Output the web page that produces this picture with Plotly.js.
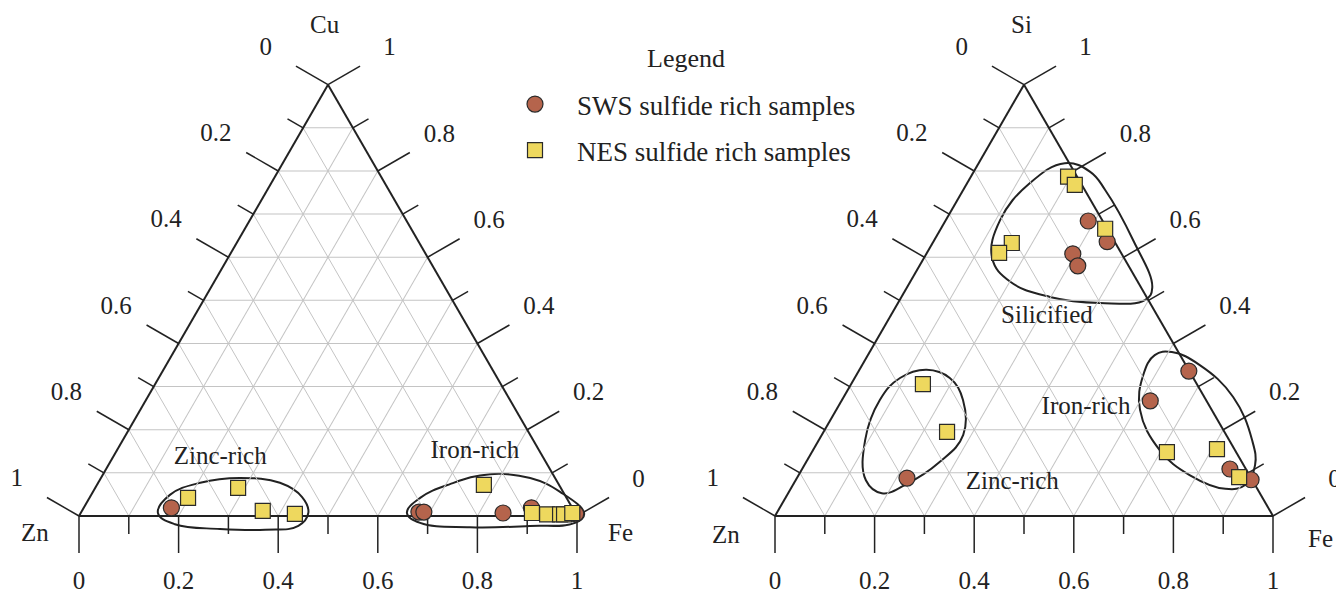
<!DOCTYPE html>
<html><head><meta charset="utf-8">
<script src="https://cdn.plot.ly/plotly-3.0.1.min.js"></script>
<style>html,body{margin:0;padding:0;background:#fff}#chart{width:1336px;height:598px}</style>
</head><body><div id="chart"></div>
<script>
// ---------------- data (fractions) ----------------
// Left diagram: Cu (top), Zn (bottom-left), Fe (bottom-right); Zn = 1 - Cu - Fe
const leftSwsCu = [0.019, 0.009, 0.009, 0.007, 0.019, 0.005];
const leftSwsFe = [0.176, 0.678, 0.688, 0.848, 0.899, 0.995];
const leftNesCu = [0.042, 0.065, 0.012, 0.005, 0.072, 0.007, 0.004, 0.004, 0.004, 0.007];
const leftNesFe = [0.198, 0.287, 0.363, 0.431, 0.777, 0.906, 0.938, 0.964, 0.972, 0.987];
// Right diagram: Si (top), Zn (bottom-left), Fe (bottom-right)
const rightSwsSi = [0.684, 0.636, 0.608, 0.580, 0.336, 0.267, 0.109, 0.084, 0.088];
const rightSwsFe = [0.287, 0.349, 0.294, 0.318, 0.663, 0.620, 0.859, 0.914, 0.221];
const rightNesSi = [0.787, 0.768, 0.666, 0.633, 0.610, 0.148, 0.155, 0.090, 0.306, 0.195];
const rightNesFe = [0.195, 0.218, 0.330, 0.159, 0.145, 0.713, 0.810, 0.887, 0.144, 0.248];

// field outlines, as [top component, Fe] pairs
const leftZincLoop = [[0.007,0.155],[0.049,0.158],[0.077,0.205],[0.088,0.279],[0.077,0.365],[0.044,0.426],[0.007,0.457],[-0.023,0.452],[-0.032,0.390],[-0.030,0.298],[-0.019,0.202]];
const leftIronLoop = [[0.007,0.655],[0.042,0.664],[0.074,0.708],[0.097,0.777],[0.088,0.862],[0.056,0.938],[0.005,1.012],[-0.016,1.004],[-0.023,0.917],[-0.026,0.798],[-0.016,0.693]];
const rightSiliLoop = [[0.818,0.173],[0.798,0.234],[0.756,0.285],[0.640,0.399],[0.529,0.493],[0.501,0.493],[0.494,0.406],[0.508,0.298],[0.543,0.201],[0.598,0.137],[0.686,0.109],[0.772,0.126]];
const rightIronLoop = [[0.380,0.607],[0.350,0.678],[0.276,0.782],[0.176,0.870],[0.118,0.905],[0.072,0.908],[0.063,0.873],[0.095,0.785],[0.153,0.696],[0.246,0.610],[0.327,0.576],[0.373,0.576]];
const rightZincLoop = [[0.339,0.135],[0.320,0.191],[0.269,0.243],[0.188,0.284],[0.125,0.268],[0.072,0.225],[0.053,0.188],[0.083,0.141],[0.176,0.093],[0.269,0.076],[0.320,0.091]];

// field labels
const leftFieldNames = ['Zinc-rich', 'Iron-rich'];
const leftFieldTop = [0.135, 0.148];
const leftFieldFe = [0.216, 0.721];
const rightFieldNames = ['Silicified', 'Iron-rich', 'Zinc-rich'];
const rightFieldTop = [0.462, 0.251, 0.077];
const rightFieldFe = [0.315, 0.499, 0.438];

// axis ticks
const minorTicks = [0, 0.1, 0.2, 0.3, 0.4, 0.5, 0.6, 0.7, 0.8, 0.9, 1];
const majorTicks = [0, 0.2, 0.4, 0.6, 0.8, 1];
const majorLabels = ['0', '0.2', '0.4', '0.6', '0.8', '1'];

const seriesNames = ['SWS sulfide rich samples', 'NES sulfide rich samples'];

// ---------------- layout geometry ----------------
const W = 1336, H = 598;
const SIDE = 498, S3 = Math.sqrt(3) / 2, TRI_H = SIDE * S3;
const BASE_Y = 516, LX0 = 79, RX0 = 775;
const FONT = '"Liberation Serif", "Times New Roman", serif';
const INK = '#222';
const ternY = [(H - BASE_Y - 10) / H, (H - BASE_Y + TRI_H + 10) / H];
const domX = x0 => [x0 / W, (x0 + SIDE) / W];

function axMain() {
  return {min: 0, tickmode: 'array', tickvals: minorTicks, ticks: '', showticklabels: false,
    showgrid: true, gridcolor: '#c4c4c4', gridwidth: 1,
    showline: true, linecolor: INK, linewidth: 2, layer: 'below traces', title: {text: ''}};
}
function tern(x0) {
  return {domain: {x: domX(x0), y: ternY}, sum: 1, bgcolor: 'rgba(0,0,0,0)',
    aaxis: axMain(), baxis: axMain(), caxis: axMain()};
}

const traces = [];
// ---- outlines, ticks and tick labels in hidden cartesian axes aligned with each triangle ----
function loopTrace(loop, xa, ya) {
  const pts = loop.concat([loop[0]]);
  return {type: 'scatter', xaxis: xa, yaxis: ya, mode: 'lines',
    x: pts.map(p => p[1] + p[0] / 2), y: pts.map(p => p[0] * S3),
    line: {color: INK, width: 2, shape: 'spline', smoothing: 1.2}, fill: 'toself', fillcolor: 'rgba(0,0,0,0)',
    hoverinfo: 'skip', showlegend: false};
}
traces.push(loopTrace(leftZincLoop, 'x', 'y'));
traces.push(loopTrace(leftIronLoop, 'x', 'y'));
traces.push(loopTrace(rightSiliLoop, 'x2', 'y2'));
traces.push(loopTrace(rightIronLoop, 'x2', 'y2'));
traces.push(loopTrace(rightZincLoop, 'x2', 'y2'));

const MAJOR_LEN = 37 / SIDE, MINOR_LEN = 18 / SIDE;
const edges = [
  {pt: v => [v, 0], n: [0, -1], lab: 67 / SIDE},                       // bottom: Fe
  {pt: v => [0.5 * (1 - v), S3 * (1 - v)], n: [-S3, 0.5], lab: 72 / SIDE}, // left: Zn
  {pt: v => [1 - v / 2, S3 * v], n: [S3, 0.5], lab: 71 / SIDE}           // right: top component
];
const isMajor = v => majorTicks.some(m => Math.abs(m - v) < 1e-9);
function tickTraces(xa, ya) {
  const tx = [], ty = [], lx = [], ly = [], lt = [];
  edges.forEach(e => {
    minorTicks.forEach(v => {
      const p = e.pt(v), len = isMajor(v) ? MAJOR_LEN : MINOR_LEN;
      tx.push(p[0], p[0] + e.n[0] * len, null);
      ty.push(p[1], p[1] + e.n[1] * len, null);
    });
    majorTicks.forEach((v, i) => {
      const p = e.pt(v);
      lx.push(p[0] + e.n[0] * e.lab); ly.push(p[1] + e.n[1] * e.lab); lt.push(majorLabels[i]);
    });
  });
  return [
    {type: 'scatter', xaxis: xa, yaxis: ya, mode: 'lines', x: tx, y: ty, connectgaps: false,
      line: {color: INK, width: 1.5}, hoverinfo: 'skip', showlegend: false},
    {type: 'scatter', xaxis: xa, yaxis: ya, mode: 'text', x: lx, y: ly, text: lt, textposition: 'middle center',
      textfont: {family: FONT, size: 25, color: INK}, cliponaxis: false, hoverinfo: 'skip', showlegend: false}
  ];
}
traces.push(...tickTraces('x', 'y'));
traces.push(...tickTraces('x2', 'y2'));

// ---- samples ----
const swsMarker = {symbol: 'circle', size: 16, color: '#b5644c', line: {color: '#2a2a2a', width: 1.2}};
const nesMarker = {symbol: 'square', size: 15, color: '#eed85e', line: {color: '#2a2a2a', width: 1.2}};
function pts(sub, a, c, marker, name, show) {
  return {type: 'scatterternary', subplot: sub, mode: 'markers', a: a, c: c, name: name,
    marker: marker, showlegend: show, legendgroup: name, hoverinfo: 'skip', cliponaxis: false};
}
traces.push(pts('ternary', leftSwsCu, leftSwsFe, swsMarker, seriesNames[0], true));
traces.push(pts('ternary', leftNesCu, leftNesFe, nesMarker, seriesNames[1], true));
traces.push(pts('ternary2', rightSwsSi, rightSwsFe, swsMarker, seriesNames[0], false));
traces.push(pts('ternary2', rightNesSi, rightNesFe, nesMarker, seriesNames[1], false));

function labelTrace(sub, names, a, c) {
  return {type: 'scatterternary', subplot: sub, mode: 'text', a: a, c: c, text: names,
    textposition: 'middle center', textfont: {family: FONT, size: 25, color: INK},
    cliponaxis: false, hoverinfo: 'skip', showlegend: false};
}
traces.push(labelTrace('ternary', leftFieldNames, leftFieldTop, leftFieldFe));
traces.push(labelTrace('ternary2', rightFieldNames, rightFieldTop, rightFieldFe));

// hidden cartesian frames: x in side lengths from the Zn vertex, y in side lengths above the base
const X_LO = -0.14, X_HI_L = 1.14, X_HI_R = 1.126, Y_LO = -0.15, Y_HI = 0.95;
const cartX = (x0, hi) => [(x0 + X_LO * SIDE) / W, (x0 + hi * SIDE) / W];
const cartY = [(H - BASE_Y + Y_LO * SIDE) / H, (H - BASE_Y + Y_HI * SIDE) / H];
const hiddenAx = (dom, rng, anchor) => ({domain: dom, range: rng, visible: false, fixedrange: true, anchor: anchor});

function ann(text, px, py, size) {
  return {text: text, x: px / W, y: (H - py) / H, xref: 'paper', yref: 'paper', showarrow: false,
    xanchor: 'center', yanchor: 'middle', font: {family: FONT, size: size || 25, color: INK}};
}

const layout = {
  width: W, height: H, margin: {l: 0, r: 0, t: 0, b: 0},
  paper_bgcolor: '#fff', plot_bgcolor: 'rgba(0,0,0,0)', hovermode: false,
  xaxis: hiddenAx(cartX(LX0, X_HI_L), [X_LO, X_HI_L], 'y'), yaxis: hiddenAx(cartY, [Y_LO, Y_HI], 'x'),
  xaxis2: hiddenAx(cartX(RX0, X_HI_R), [X_LO, X_HI_R], 'y2'), yaxis2: hiddenAx(cartY, [Y_LO, Y_HI], 'x2'),
  ternary: tern(LX0),
  ternary2: tern(RX0),
  legend: {x: 493 / W, xanchor: 'left', y: (H - 80) / H, yanchor: 'top', bgcolor: 'rgba(0,0,0,0)',
    font: {family: FONT, size: 27, color: INK}, itemwidth: 74,
    tracegroupgap: 8, traceorder: 'grouped'},
  annotations: [ann('Legend', 686, 58, 26), ann('Cu', 325, 25), ann('Zn', 35, 532), ann('Fe', 620, 532),
    ann('Si', 1021, 25), ann('Zn', 726, 534), ann('Fe', 1320, 538)]
};

Plotly.newPlot('chart', traces, layout, {displayModeBar: false, staticPlot: true});
</script></body></html>
